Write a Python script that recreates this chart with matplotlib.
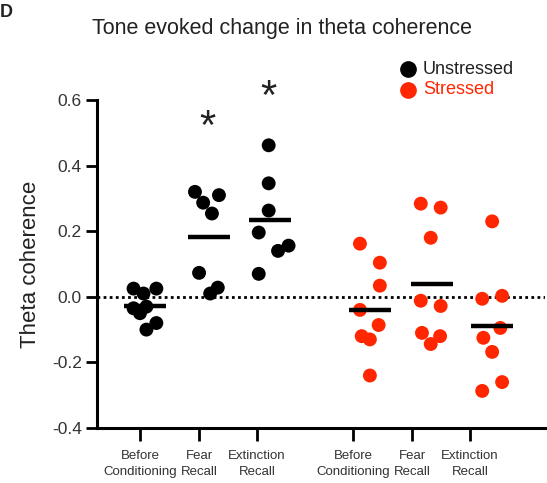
import numpy as np
import matplotlib
matplotlib.use("Agg")
import matplotlib.pyplot as plt

plt.rcParams['font.family'] = ['Liberation Sans', 'DejaVu Sans']

# Conditions shown for each group of animals
conditions = ["Before\nConditioning", "Fear\nRecall", "Extinction\nRecall"]
groups = ["Unstressed", "Stressed"]

# Tone evoked change in theta coherence, one value per animal
unstressed_before = [0.025, 0.025, 0.01, -0.035, -0.03, -0.05, -0.10, -0.08]
unstressed_fear = [0.32, 0.31, 0.287, 0.254, 0.073, 0.01, 0.028]
unstressed_ext = [0.462, 0.346, 0.263, 0.196, 0.14, 0.156, 0.07]
stressed_before = [0.162, 0.104, 0.034, -0.04, -0.086, -0.12, -0.13, -0.24]
stressed_fear = [0.284, 0.272, 0.18, -0.012, -0.028, -0.11, -0.12, -0.144]
stressed_ext = [0.23, -0.006, 0.003, -0.095, -0.125, -0.168, -0.26, -0.287]

# Conditions marked as significant (asterisk above the column)
significant = [False, True, True, False, False, False]

series = [unstressed_before, unstressed_fear, unstressed_ext,
          stressed_before, stressed_fear, stressed_ext]

# Layout: column centres, tick positions and horizontal scatter of dots
col_pos = [0.09, 1.18, 2.22, 3.93, 4.99, 6.02]
tick_pos = [0.0, 1.01, 2.0, 3.64, 4.65, 5.64]
spread = [
    [-0.20, 0.19, -0.03, -0.20, 0.02, -0.09, 0.02, 0.19],
    [-0.24, 0.17, -0.10, 0.05, -0.17, 0.02, 0.15],
    [-0.02, -0.02, -0.02, -0.19, 0.14, 0.32, -0.19],
    [-0.17, 0.17, 0.17, -0.17, 0.15, -0.14, 0.0, 0.0],
    [-0.19, 0.15, -0.02, -0.19, 0.15, -0.17, 0.14, -0.02],
    [0.0, -0.17, 0.17, 0.14, -0.15, 0.0, 0.17, -0.17],
]
star_y = [None, 0.515, 0.607, None, None, None]

BLACK = "#000000"
RED = "#ff2600"
colors = [BLACK] * 3 + [RED] * 3

fig = plt.figure(figsize=(5.47, 4.83), dpi=100)
ax = fig.add_axes([0.1773, 0.1139, 0.819, 0.679])

# zero reference line
ax.axhline(0, color="black", lw=2.0, ls=(0, (1, 1.2)), zorder=1)

for i, vals in enumerate(series):
    xs = col_pos[i] + np.array(spread[i])
    ax.scatter(xs, vals, s=100, color=colors[i], edgecolors="none", zorder=3,
               clip_on=False)
    m = np.mean(vals)
    ax.plot([col_pos[i] - 0.36, col_pos[i] + 0.36], [m, m], color="black",
            lw=3.2, solid_capstyle="butt", zorder=4)
    if significant[i]:
        ax.text(col_pos[i] - 0.02, star_y[i], "*", ha="center", va="center",
                fontsize=30, color="#222222", clip_on=False)

ax.set_xlim(-0.735, 6.923)
ax.set_ylim(-0.4, 0.6)
ax.set_yticks([-0.4, -0.2, 0.0, 0.2, 0.4, 0.6])
ax.set_yticklabels(["-0.4", "-0.2", "0.0", "0.2", "0.4", "0.6"])
ax.set_xticks(tick_pos)
ax.set_xticklabels(conditions * 2, fontsize=9.5, color="#333333",
                   linespacing=1.45)

for side in ("top", "right"):
    ax.spines[side].set_visible(False)
for side in ("left", "bottom"):
    ax.spines[side].set_linewidth(2.2)
ax.tick_params(axis="y", length=8, width=2.0, labelsize=12.5, pad=3,
               labelcolor="#333333")
ax.tick_params(axis="x", length=9, width=2.0, pad=7)

ax.set_ylabel("Theta coherence", fontsize=16, color="#222222", labelpad=8)

fig.text(0.515, 0.942, "Tone evoked change in theta coherence",
         ha="center", va="center", fontsize=15.5, color="#222222")

# legend
lx_dot, lx_txt = 0.746, 0.773
for j, (name, c) in enumerate(zip(groups, [BLACK, RED])):
    yy = 0.857 - j * 0.043
    fig.add_artist(plt.Line2D([lx_dot], [yy], marker="o", markersize=11,
                              color=c, transform=fig.transFigure))
    fig.text(lx_txt, yy, name, ha="left", va="center", fontsize=13,
             color="#222222" if c == BLACK else c)

# panel letter
fig.text(0.0, 0.975, "D", ha="left", va="center", fontsize=13,
         fontweight="bold", color="#222222")

fig.savefig("out.png", dpi=100)
